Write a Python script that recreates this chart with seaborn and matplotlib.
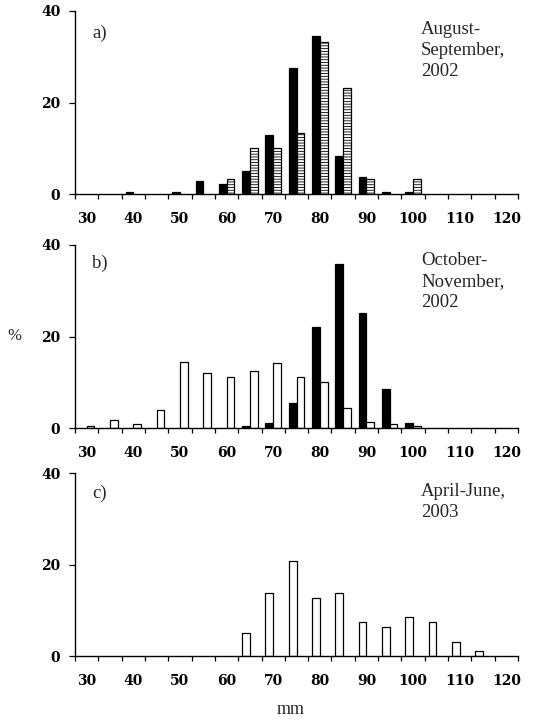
import matplotlib
matplotlib.use("Agg")
import numpy as np
import pandas as pd
import seaborn as sns
import matplotlib.pyplot as plt

# ---------------- data ----------------
sizes = [str(s) for s in range(30, 121, 5)]          # 30..120 mm classes
tick_labels = [str(s) for s in range(30, 121, 10)]

a_black = [0, 0, 0.5, 0, 0.5, 2.8, 2.3, 5.0, 13.0, 27.5, 34.5, 8.4, 3.8, 0.5, 0.5, 0, 0, 0, 0]
a_hatch = [0, 0, 0, 0, 0, 0, 3.3, 10.0, 10.0, 13.3, 33.3, 23.3, 3.3, 0, 3.3, 0, 0, 0, 0]

b_black = [0, 0, 0, 0, 0, 0, 0, 0.5, 1.1, 5.5, 22.0, 35.8, 25.2, 8.6, 1.1, 0, 0, 0, 0]
b_white = [0.5, 1.9, 0.9, 3.9, 14.5, 12.1, 11.1, 12.4, 14.2, 11.1, 10.2, 4.4, 1.4, 0.9, 0.5, 0, 0, 0, 0]

c_white = [0, 0, 0, 0, 0, 0, 0, 5.2, 13.8, 20.9, 12.7, 13.8, 7.4, 6.5, 8.5, 7.4, 3.2, 1.1, 0]
c_none = [0] * 19

panel_letters = ["a)", "b)", "c)"]
panel_titles = ["August-\nSeptember,\n2002", "October-\nNovember,\n2002", "April-June,\n2003"]

# ---------------- style ----------------
sns.set_theme(style="white")
plt.rcParams["font.family"] = ["Liberation Serif", "DejaVu Serif"]
plt.rcParams["hatch.linewidth"] = 0.6
plt.rcParams["hatch.color"] = "black"

W, H = 535, 722
fig = plt.figure(figsize=(W / 100, H / 100), dpi=100)

def fx(px):
    return px / W

def fy(py):
    return 1 - py / H

# axes rectangles in pixel coordinates (left, top, right, bottom)
rects = [(75, 11, 518, 194.3), (75, 245, 518, 428.3), (75, 473.3, 518, 656.3)]
series = [(a_black, a_hatch, "black", "hatch"),
          (b_black, b_white, "black", "white"),
          (c_white, c_none, "white", "none")]
letter_y = [33, 263, 493]
title_top = [21, 252, 483]

for i, ((l, t, r, b), (s1, s2, st1, st2)) in enumerate(zip(rects, series)):
    ax = fig.add_axes([fx(l), fy(b), fx(r) - fx(l), (b - t) / H])
    df = pd.DataFrame({
        "size": sizes * 2,
        "pct": list(s1) + list(s2),
        "series": ["s1"] * len(sizes) + ["s2"] * len(sizes),
    })
    col1 = "black" if st1 == "black" else "white"
    col2 = "black" if st2 == "black" else "white"
    sns.barplot(data=df, x="size", y="pct", hue="series", hue_order=["s1", "s2"],
                order=sizes, palette={"s1": col1, "s2": col2}, width=0.66,
                edgecolor="black", linewidth=0.9, errorbar=None, legend=False,
                saturation=1, ax=ax)
    for k, cont in enumerate(ax.containers):
        st = st1 if k == 0 else st2
        for p in cont:
            if st == "hatch":
                p.set_hatch("------")
                p.set_facecolor("white")
            if p.get_height() <= 0:
                p.set_visible(False)

    ax.set_xlim(-0.5, 18.5)
    ax.set_ylim(0, 40)
    ax.set_xlabel("")
    ax.set_ylabel("")
    for sp in ["top", "right"]:
        ax.spines[sp].set_visible(False)
    for sp in ["left", "bottom"]:
        ax.spines[sp].set_color("black")
        ax.spines[sp].set_linewidth(1.0)

    ax.set_xticks(range(0, 19, 2))
    ax.set_xticklabels(tick_labels, fontfamily="DejaVu Serif", fontweight="bold", fontsize=10)
    ax.set_xticks(np.arange(-0.5, 19, 1), minor=True)
    ax.tick_params(axis="x", which="major", bottom=True, length=0, pad=13, colors="black")
    ax.tick_params(axis="x", which="minor", bottom=True, length=3.5, width=0.9,
                   direction="out", color="black")
    ax.set_yticks([0, 20, 40])
    ax.set_yticklabels(["0", "20", "40"], fontfamily="DejaVu Serif", fontweight="bold", fontsize=10)
    ax.tick_params(axis="y", which="major", left=True, length=4.5, width=0.9,
                   direction="out", pad=6, colors="black")

    fig.text(fx(92), fy(letter_y[i]), panel_letters[i], fontsize=13.5, va="center", ha="left")
    fig.text(fx(421), fy(title_top[i]), panel_titles[i], fontsize=13.5, va="top",
             ha="left", linespacing=1.3)

fig.text(fx(14), fy(336), "%", fontsize=12, ha="center", va="center")
fig.text(fx(291), fy(710), "mm", fontsize=13, ha="center", va="center")

fig.savefig("out.png", dpi=100)
